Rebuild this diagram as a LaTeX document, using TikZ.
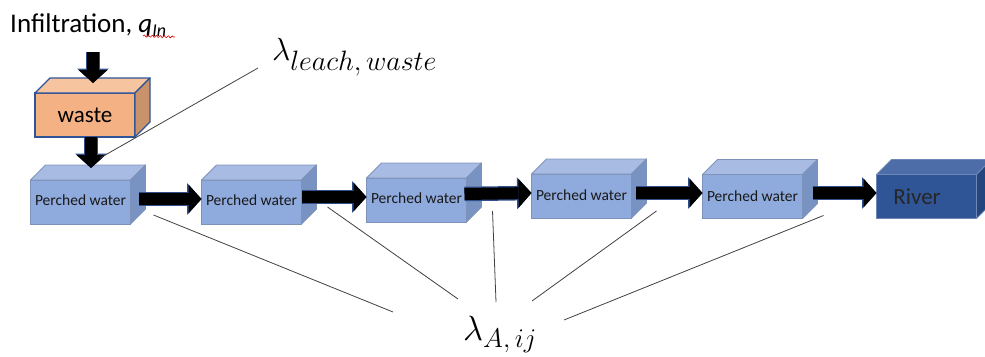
\RequirePackage{fix-cm}
\documentclass[tikz,border=0pt]{standalone}
\usepackage{fontspec}
\setmainfont{Carlito}
\usetikzlibrary{arrows.meta,calc,decorations.pathmorphing}

\definecolor{pwFront}{HTML}{8FAADC}
\definecolor{pwTop}{HTML}{A7BBE3}
\definecolor{pwSide}{HTML}{7892C2}
\definecolor{pwEdge}{HTML}{7F93BA}
\definecolor{wsFront}{HTML}{F4B183}
\definecolor{wsTop}{HTML}{F7C4A0}
\definecolor{wsSide}{HTML}{C9926A}
\definecolor{wsEdge}{HTML}{2F5597}
\definecolor{rvFront}{HTML}{2F5597}
\definecolor{rvTop}{HTML}{4D6DA8}
\definecolor{rvSide}{HTML}{24467F}
\definecolor{rvEdge}{HTML}{6F87B6}
\definecolor{arrowEdge}{HTML}{2F4F8A}
\definecolor{leader}{HTML}{404040}

% top and right faces of a cuboid whose front face is node #1
\newcommand\cubefaces[5][0.9pt]{%
  \filldraw[fill=#3,draw=#5,line width=#1,line join=round]
    (#2.north west) -- ++(15,-15) -- ([shift={(15,-15)}]#2.north east)
    -- (#2.north east) -- cycle;
  \filldraw[fill=#4,draw=#5,line width=#1,line join=round]
    (#2.north east) -- ++(15,-15) -- ([shift={(15,-15)}]#2.south east)
    -- (#2.south east) -- cycle;
}

\tikzset{
  front/.style={draw, line width=0.9pt, minimum width=100pt, minimum height=44pt,
    inner sep=0pt, outer sep=0pt},
  perched/.style={front, fill=pwFront, draw=pwEdge, text=black!90,
    font=\fontsize{15.5}{16}\selectfont},
  wastebox/.style={front, fill=wsFront, draw=wsEdge, line width=1.3pt,
    font=\fontsize{23}{24}\selectfont},
  riverbox/.style={front, fill=rvFront, draw=rvEdge, text=black!85,
    font=\fontsize{23}{24}\selectfont},
  flow/.style={line width=12pt, draw=black,
    -{Triangle[length=13pt,width=29pt,line width=0pt]},
    preaction={draw=arrowEdge, line width=14.5pt,
      -{Triangle[length=14.5pt,width=32pt,line width=0pt]}}},
  leaderline/.style={draw=leader, line width=0.8pt},
}

\begin{document}
\begin{tikzpicture}[x=1pt,y=-1pt]
\useasboundingbox (0,0) rectangle (985,356);

% boxes (front faces)
\node[wastebox] (waste) at (85,115) {waste};
\node[perched] (p1) at (80.5,202) {\raisebox{3pt}{Perched water}};
\node[perched] (p2) at (251.5,202) {\raisebox{3pt}{Perched water}};
\node[perched] (p3) at (416.5,200) {\raisebox{3pt}{Perched water}};
\node[perched] (p4) at (581.5,196) {\raisebox{2pt}{Perched water}};
\node[perched] (p5) at (752.5,196.5) {\raisebox{-1pt}{Perched water}};
\node[riverbox] (river) at (926.5,196.5) {\raisebox{-4pt}{River}\hspace*{19pt}};

% depth faces
\cubefaces[1.3pt]{waste}{wsTop}{wsSide}{wsEdge}
\foreach \b in {p1,p2,p3,p4,p5}{\cubefaces{\b}{pwTop}{pwSide}{pwEdge}}
\cubefaces{river}{rvTop}{rvSide}{rvEdge}

% labels
\node[anchor=base west, inner sep=0pt, font=\fontsize{27}{28}\selectfont] (infil) at (10,32)
  {Infiltration, \textit{q}\raisebox{-4pt}{\fontsize{18}{18}\selectfont\textit{In}}};
\draw[red!85!black, line width=0.6pt, decorate,
  decoration={snake, amplitude=1pt, segment length=4pt}]
  ($(infil.base west)+(133,4)$) -- ($(infil.base west)+(165,5)$);

\node[anchor=base west, inner sep=0pt] (lamLeach) at (272,60)
  {\fontsize{32}{32}\selectfont$\lambda$\raisebox{-10pt}{\fontsize{28}{28}\selectfont$leach{,}\,waste$}};
\node[anchor=base west, inner sep=0pt] (lamA) at (463,340)
  {\fontsize{35}{35}\selectfont$\lambda$\raisebox{-7pt}{\fontsize{27}{27}\selectfont$A{,}\,ij$}};

% vertical flows
\coordinate (rain) at (93,52);
\draw[flow] (rain) -- ([xshift=8pt,yshift=10pt]waste.north);
\draw[flow] ([xshift=6pt]waste.south) -- ([xshift=10.5pt,yshift=12pt]p1.north);

% horizontal flows
\draw[flow] ($(p1.east)+(8,-3)$) -- ($(p2.west)+(0,-3)$);
\draw[flow] ($(p2.east)+(0,-5)$) -- ($(p3.west)+(0,-3)$);
\draw[flow] ($(p3.east)+(-2,-6)$) -- ($(p4.west)+(0,-3)$);
\draw[flow] ($(p4.east)+(4,-3)$) -- ($(p5.west)+(0,-3.5)$);
\draw[flow] ($(p5.east)+(10,-3.5)$) -- ($(river.west)+(0,-3.5)$);

% leader lines
\draw[leaderline] ($(lamLeach.base west)+(-14,8)$) -- ($(p1.north)+(19.5,-22)$);
\coordinate (lc) at (495,322);
\draw[leaderline] ($(p1.south east)+(23,-9)$) -- ($(lc)+(-102,-10)$);
\draw[leaderline] ($(p2.south east)+(26,-17)$) -- ($(lc)+(-37,-23)$);
\draw[leaderline] ($(p3.south east)+(26,-11)$) -- ($(lc)+(1,-20)$);
\draw[leaderline] ($(p4.south east)+(25,-7)$) -- ($(lc)+(37,-21)$);
\draw[leaderline] ($(p5.south east)+(21,-3)$) -- ($(lc)+(69,-2)$);
\end{tikzpicture}
\end{document}
